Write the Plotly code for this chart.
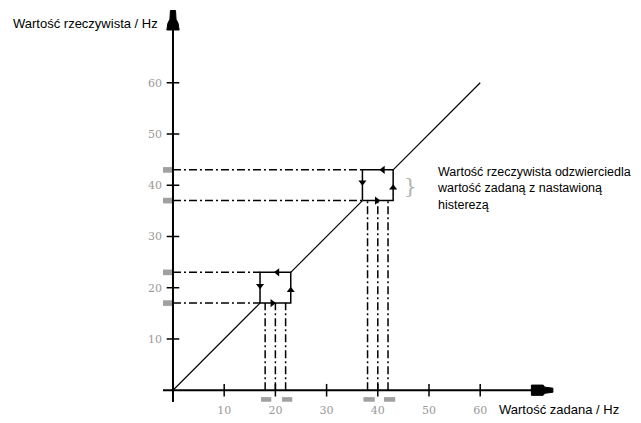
import plotly.graph_objects as go

# ---- data ----
tick_values = [10, 20, 30, 40, 50, 60]
tick_labels = ["10", "20", "30", "40", "50", "60"]
hyst_low = [17, 37]          # lower edge of each hysteresis box (Hz)
hyst_high = [23, 43]         # upper edge of each hysteresis box (Hz)
setpoint_lines = [[18, 20, 22], [38, 40, 42]]   # setpoint values dropped to axis
setpoint_bands = [[17.2, 19.2], [21.3, 23.3], [37.2, 39.4], [41.2, 43.4]]
diag_end = 60
# arrow markers on the box edges: (x, y, symbol)
arrow_x = [20.4, 17, 19.4, 23, 41, 37, 39.8, 43]
arrow_y = [23, 20.4, 17, 19.5, 43, 40.6, 37, 39.5]
arrow_sym = ["triangle-left", "triangle-down", "triangle-right", "triangle-up"] * 2
note_lines = ["Wartość rzeczywista odzwierciedla", "wartość zadaną z nastawioną", "histerezą"]

fig = go.Figure()

# diagonal y = x, interrupted by the boxes
dx, dy = [], []
starts = [0] + hyst_high
ends = hyst_low + [diag_end]
for s, e in zip(starts, ends):
    dx += [s, e, None]
    dy += [s, e, None]
fig.add_trace(go.Scatter(x=dx, y=dy, mode="lines", line=dict(color="black", width=1.2), hoverinfo="skip"))

# horizontal dash-dot lines from y-axis to boxes
hx, hy = [], []
for lo, hi in zip(hyst_low, hyst_high):
    for v in (lo, hi):
        hx += [0, lo, None]
        hy += [v, v, None]
fig.add_trace(go.Scatter(x=hx, y=hy, mode="lines",
                         line=dict(color="black", width=1.5, dash="8px,3px,2px,3px"), hoverinfo="skip"))

# vertical dash-dot lines from boxes to x-axis
vx, vy = [], []
for lo, group in zip(hyst_low, setpoint_lines):
    for v in group:
        vx += [v, v, None]
        vy += [0, lo, None]
fig.add_trace(go.Scatter(x=vx, y=vy, mode="lines",
                         line=dict(color="black", width=1.5, dash="8px,3px,2px,3px"), hoverinfo="skip"))

# hysteresis boxes
bx, by = [], []
for lo, hi in zip(hyst_low, hyst_high):
    bx += [lo, hi, hi, lo, lo, None]
    by += [lo, lo, hi, hi, lo, None]
fig.add_trace(go.Scatter(x=bx, y=by, mode="lines", line=dict(color="black", width=1.5), hoverinfo="skip"))

# arrow markers
fig.add_trace(go.Scatter(x=arrow_x, y=arrow_y, mode="markers",
                         marker=dict(symbol=arrow_sym, size=7, color="black"), hoverinfo="skip"))

# axis tick marks
fig.add_trace(go.Scatter(x=tick_values, y=[0] * len(tick_values), mode="markers",
                         marker=dict(symbol="line-ns", size=9, line=dict(color="black", width=1.5)),
                         hoverinfo="skip"))
fig.add_trace(go.Scatter(x=[0] * len(tick_values), y=tick_values, mode="markers",
                         marker=dict(symbol="line-ew", size=9, line=dict(color="black", width=1.5)),
                         hoverinfo="skip"))

shapes = []
# axes lines
shapes.append(dict(type="line", x0=-1.95, y0=0, x1=71, y1=0, line=dict(color="black", width=2)))
shapes.append(dict(type="line", x0=0, y0=-2.3, x1=0, y1=71, line=dict(color="black", width=2)))
# arrow heads
shapes.append(dict(type="path",
                   path="M 70,-1 L 70,1 L 72.3,1 L 72.6,0.6 L 74.2,0.4 L 74.2,-0.4 L 72.6,-0.6 L 72.3,-1 Z",
                   fillcolor="black", line=dict(color="black", width=1)))
shapes.append(dict(type="path",
                   path="M -1.2,70.3 L 1.2,70.3 L 1.0,71.6 L 0.6,72.4 L 0.5,74.1 L -0.5,74.1 L -0.6,72.4 L -1.0,71.6 Z",
                   fillcolor="black", line=dict(color="black", width=1)))
# gray bands on y-axis
for lo, hi in zip(hyst_low, hyst_high):
    for v in (lo, hi):
        shapes.append(dict(type="rect", x0=-2.3, x1=-0.2, y0=v - 0.55, y1=v + 0.55,
                           fillcolor="#a0a0a0", line=dict(width=0), layer="below"))
# gray bands below x-axis
for a, b in setpoint_bands:
    shapes.append(dict(type="rect", x0=a, x1=b, y0=-2.25, y1=-1.35,
                       fillcolor="#a0a0a0", line=dict(width=0), layer="below"))

# page has an 8px body margin: figure origin is at page (8, 8)
L, T, PW, PH = 155, 2, 394, 392

def px(xp):
    return (xp - 8 - L) / PW

def py(yp):
    return (T + PH - (yp - 8)) / PH

labfont = dict(family="Liberation Sans, Arial", size=13, color="black")
annotations = [
    dict(text="Wartość rzeczywista / Hz", xref="paper", yref="paper", x=px(11), y=py(23),
         xanchor="left", yanchor="middle", showarrow=False, font=labfont),
    dict(text="Wartość zadana / Hz", xref="paper", yref="paper", x=px(497), y=py(409),
         xanchor="left", yanchor="middle", showarrow=False, font=labfont),
    dict(text="}", xref="x", yref="y", x=46.3, y=39.8, xanchor="center", yanchor="middle",
         showarrow=False, font=dict(family="DejaVu Serif", size=20, color="#b0b0b0")),
    dict(text="<br>".join(note_lines), xref="paper", yref="paper", x=px(435), y=py(188),
         xanchor="left", yanchor="middle", align="left", showarrow=False,
         font=dict(family="Liberation Sans, Arial", size=12.5, color="black")),
]

tickfont = dict(family="DejaVu Serif", size=11, color="#999999")
fig.update_layout(
    width=633, height=415,
    margin=dict(l=L, r=633 - L - PW, t=T, b=415 - T - PH),
    paper_bgcolor="white", plot_bgcolor="white",
    showlegend=False,
    shapes=shapes, annotations=annotations,
    xaxis=dict(range=[-1.95, 75], tickvals=tick_values, ticktext=tick_labels, showgrid=False,
               zeroline=False, showline=False, ticks="", tickfont=tickfont, fixedrange=True),
    yaxis=dict(range=[-2.3, 74.2], tickvals=tick_values, ticktext=tick_labels, showgrid=False,
               zeroline=False, showline=False, ticks="", tickfont=tickfont, fixedrange=True),
)

fig.write_html("out.html")
